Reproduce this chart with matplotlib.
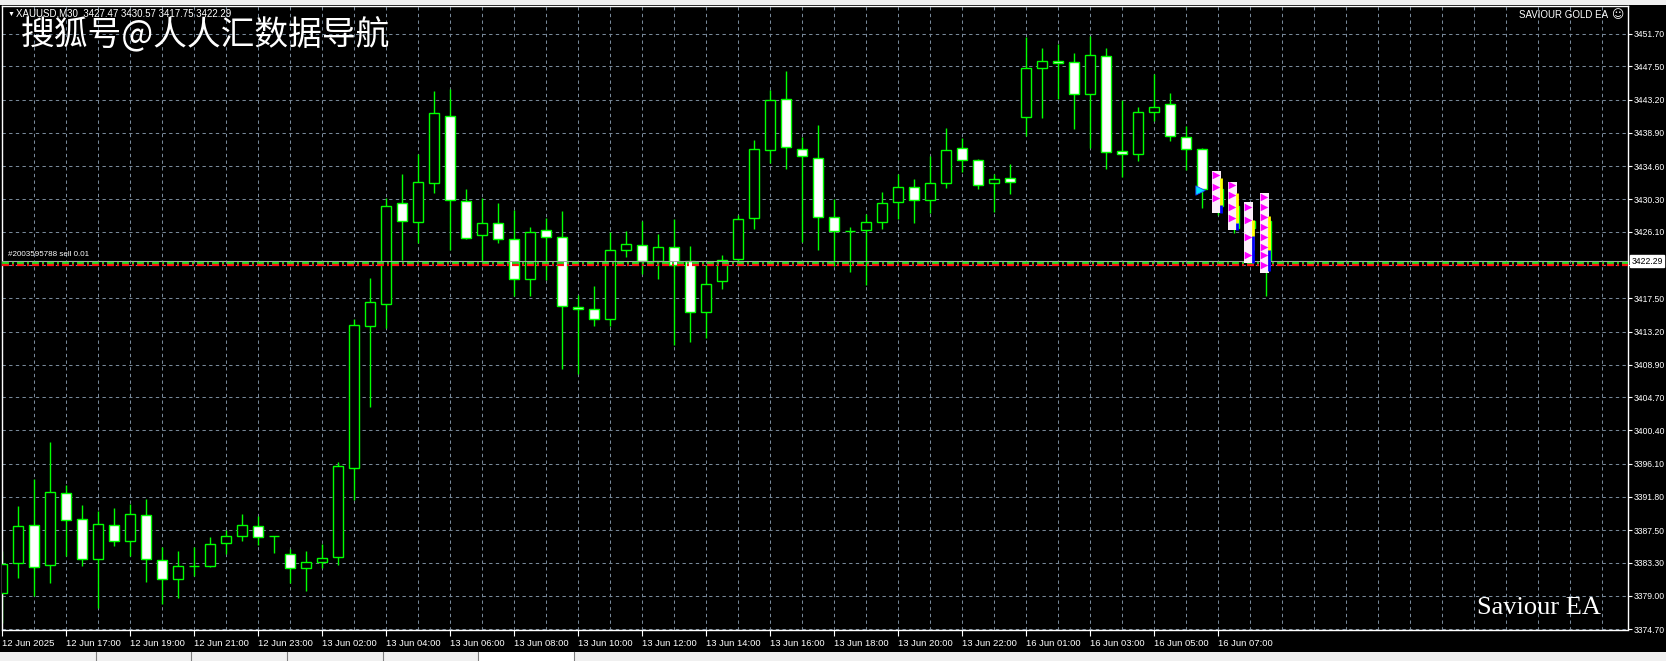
import matplotlib
matplotlib.use("Agg")
import matplotlib.pyplot as plt
import matplotlib.transforms as mtransforms
from matplotlib.patches import Rectangle
import numpy as np

plt.rcParams['font.family'] = ['Liberation Sans', 'DejaVu Sans']
plt.rcParams['lines.scale_dashes'] = False

W, H = 1666, 661

# XAUUSD M30 bars, 12 Jun 15:00 -> 16 Jun 08:30
opens = [3379.31, 3383.19, 3388.11, 3382.93, 3392.25, 3388.89, 3383.71, 3388.11, 3386.04, 3389.40,
         3383.58, 3381.12, 3382.89, 3382.80, 3385.78, 3386.69, 3387.98, 3386.73, 3384.36, 3382.54,
         3383.32, 3383.97, 3395.49, 3413.87, 3416.72, 3429.79, 3427.33, 3432.38, 3441.05, 3430.05,
         3425.65, 3427.20, 3425.13, 3419.95, 3426.29, 3425.39, 3416.41, 3416.07, 3414.77, 3423.70,
         3424.35, 3422.28, 3424.09, 3422.28, 3415.68, 3419.69, 3422.54, 3427.85, 3436.65, 3443.25,
         3436.78, 3435.61, 3428.00, 3426.17, 3426.30, 3427.33, 3429.92, 3431.86, 3430.18, 3432.38,
         3436.91, 3435.36, 3432.37, 3433.02, 3440.91, 3447.25, 3448.16, 3448.03, 3443.89, 3448.81,
         3436.51, 3436.12, 3441.56, 3442.60, 3438.33, 3436.77, 3431.60, 3429.50, 3426.60, 3427.47]
highs = [3384.79, 3390.61, 3394.06, 3398.89, 3393.33, 3390.70, 3390.01, 3390.35, 3390.83, 3391.47,
         3385.35, 3384.74, 3385.35, 3386.56, 3387.46, 3389.58, 3389.27, 3386.80, 3385.00, 3384.74,
         3385.65, 3396.26, 3414.86, 3420.08, 3430.43, 3433.54, 3436.13, 3444.33, 3444.59, 3431.60,
         3430.43, 3429.79, 3428.88, 3426.68, 3427.85, 3428.75, 3417.88, 3419.05, 3426.12, 3426.16,
         3427.46, 3425.78, 3427.72, 3424.22, 3421.81, 3423.06, 3428.24, 3437.94, 3444.41, 3446.87,
         3438.33, 3439.88, 3430.31, 3426.68, 3428.37, 3431.21, 3433.54, 3432.90, 3435.87, 3439.50,
         3438.20, 3435.48, 3433.54, 3434.83, 3451.27, 3449.84, 3450.36, 3449.20, 3451.40, 3449.84,
         3443.11, 3442.21, 3446.48, 3444.02, 3439.75, 3436.90, 3433.90, 3432.50, 3429.90, 3430.57]
lows = [3375.50, 3381.34, 3378.97, 3380.60, 3384.18, 3382.89, 3377.40, 3385.48, 3384.18, 3380.82,
        3378.00, 3378.66, 3381.55, 3382.67, 3384.36, 3386.12, 3385.52, 3384.57, 3380.60, 3379.65,
        3382.54, 3383.02, 3391.39, 3403.40, 3413.70, 3422.50, 3424.70, 3431.17, 3423.79, 3425.13,
        3422.24, 3424.61, 3417.75, 3417.75, 3419.82, 3408.30, 3407.66, 3413.96, 3413.96, 3422.80,
        3420.60, 3420.04, 3411.45, 3411.80, 3412.36, 3418.66, 3421.64, 3426.51, 3434.97, 3434.19,
        3424.74, 3423.71, 3421.64, 3420.86, 3419.18, 3426.42, 3427.72, 3427.20, 3428.50, 3431.73,
        3433.80, 3431.60, 3428.62, 3430.95, 3438.45, 3440.78, 3443.24, 3439.36, 3436.90, 3434.18,
        3433.15, 3435.22, 3440.40, 3437.81, 3434.05, 3429.14, 3428.30, 3426.00, 3422.10, 3417.75]
closes = [3383.10, 3387.98, 3382.67, 3392.38, 3388.76, 3383.71, 3388.24, 3386.04, 3389.53, 3383.71,
          3381.12, 3382.80, 3382.90, 3385.65, 3386.69, 3388.11, 3386.56, 3386.70, 3382.54, 3383.32,
          3383.84, 3395.75, 3414.00, 3416.97, 3429.40, 3427.46, 3432.51, 3441.44, 3430.18, 3425.26,
          3427.20, 3425.13, 3419.95, 3426.03, 3425.39, 3416.46, 3416.07, 3414.77, 3423.70, 3424.48,
          3422.28, 3424.09, 3421.85, 3415.68, 3419.31, 3422.41, 3427.72, 3436.78, 3443.12, 3437.04,
          3435.87, 3428.00, 3426.17, 3426.20, 3427.33, 3429.79, 3431.86, 3430.18, 3432.38, 3436.65,
          3435.36, 3432.12, 3432.89, 3432.50, 3447.25, 3448.16, 3447.90, 3443.89, 3448.94, 3436.38,
          3436.12, 3441.56, 3442.21, 3438.45, 3436.77, 3431.60, 3429.50, 3426.60, 3427.47, 3422.29]

time_labels = ["12 Jun 2025", "12 Jun 17:00", "12 Jun 19:00", "12 Jun 21:00", "12 Jun 23:00",
               "13 Jun 02:00", "13 Jun 04:00", "13 Jun 06:00", "13 Jun 08:00", "13 Jun 10:00",
               "13 Jun 12:00", "13 Jun 14:00", "13 Jun 16:00", "13 Jun 18:00", "13 Jun 20:00",
               "13 Jun 22:00", "16 Jun 01:00", "16 Jun 03:00", "16 Jun 05:00", "16 Jun 07:00"]
# the 3421.80 level is covered by the bid price box, so its label is left blank
price_levels = [3451.70, 3447.50, 3443.20, 3438.90, 3434.60, 3430.30, 3426.10, 3421.80, 3417.50,
                3413.20, 3408.90, 3404.70, 3400.40, 3396.10, 3391.80, 3387.50, 3383.30, 3379.00, 3374.70]
price_labels = ["3451.70", "3447.50", "3443.20", "3438.90", "3434.60", "3430.30", "3426.10",
                "", "3417.50", "3413.20", "3408.90", "3404.70", "3400.40", "3396.10",
                "3391.80", "3387.50", "3383.30", "3379.00", "3374.70"]

bid = 3422.29
order_buy_line = 3422.05
order_sl_line = 3421.82

# EA signal arrow columns (bar index, top, bottom, arrow prices)
sig_idx = [76, 77, 78, 79]
sig_top = [3433.97, 3432.50, 3429.91, 3431.08]
sig_bot = [3428.49, 3426.33, 3422.02, 3420.72]
sig_arrows = [[3433.45, 3431.94, 3430.43],
              [3432.16, 3430.86, 3429.35, 3427.84],
              [3429.35, 3427.63, 3425.47, 3423.10],
              [3430.65, 3429.35, 3428.06, 3426.76, 3425.47, 3424.17, 3423.10, 3421.80]]
sig_yellow = [(3433.0, 3429.35), (3431.1, 3427.2), (3427.6, 3423.7), (3428.1, 3421.6)]
sig_blue = [(3429.6, 3428.5), (3427.2, 3426.3), (3425.5, 3422.0), (3423.7, 3421.0)]
cyan_idx, cyan_price = 74.85, 3431.51

lime = '#00ff00'
gridc = '#778899'

fig = plt.figure(figsize=(W / 100, H / 100), dpi=100)
fig.patch.set_facecolor('black')
ax = fig.add_axes([2 / W, (H - 629.5) / H, 1626 / W, 623.5 / H])
ax.set_facecolor('black')

n = len(opens)
xs = np.arange(n)
o = np.array(opens); c = np.array(closes)
ax.set_xlim(-0.02, 1626 / 16 - 0.02)
ax.set_ylim(3374.64, 3455.32)

# grid
for v in price_levels:
    ax.axhline(v, color=gridc, lw=0.75, ls=(0, (2.4, 2.4)), zorder=0)
for v in range(0, 102, 2):
    ax.axvline(v, color=gridc, lw=0.75, ls=(0, (2.4, 2.4)), zorder=0)

# candles
ax.vlines(xs, lows, highs, color=lime, lw=1.0, zorder=2)
bull = c >= o
ax.bar(xs, np.abs(c - o), bottom=np.minimum(o, c), width=0.62,
       color=np.where(bull, 'black', 'white'), edgecolor=lime, linewidth=1.0, zorder=3)

# bid + order lines
ax.axhline(bid, color='#a8a8a8', lw=0.8, zorder=4)
ax.axhline(order_buy_line, color='#22dd22', lw=1.6, ls=(0, (5, 2.2, 1.4, 2.2)), zorder=4)
ax.axhline(order_sl_line, color='#ff1010', lw=1.6, ls=(0, (5, 2.2, 1.4, 2.2)), zorder=4)

# EA signal columns
for i, t, b, arr, yl, bl in zip(sig_idx, sig_top, sig_bot, sig_arrows, sig_yellow, sig_blue):
    ax.bar(i - 0.12, t - b, bottom=b, width=0.6, color='#fdeefa', edgecolor='none', zorder=5)
    ax.vlines(i + 0.14, yl[1], yl[0], color='#ffff00', lw=2.0, zorder=6)
    ax.vlines(i + 0.14, bl[1], bl[0], color='#0000ff', lw=2.0, zorder=6)
    ax.scatter([i - 0.15] * len(arr), arr, marker='>', s=30, color='#ff00ff', zorder=7, linewidths=0)
ax.scatter([cyan_idx], [cyan_price], marker='>', s=45, color='#00e5ff', edgecolors='#2040ff',
           linewidths=0.6, zorder=7)

# axes styling
for s in ax.spines.values():
    s.set_color('white'); s.set_linewidth(1.0)
ax.yaxis.tick_right()
ax.set_yticks(price_levels)
ax.set_yticklabels(price_labels)
ax.set_xticks(xs[::4])
ax.set_xticklabels(time_labels, ha='left')
ax.tick_params(axis='y', colors='white', length=3, width=0.8, pad=1.0, labelsize=6.2)
ax.tick_params(axis='x', colors='white', length=4, width=0.8, pad=3, labelsize=6.8)

# current price box
tr = mtransforms.blended_transform_factory(ax.transAxes, ax.transData)
ax.text(1.0022, bid, "3422.29", transform=tr, ha='left', va='center', fontsize=6.2, color='black',
        bbox=dict(facecolor='white', edgecolor='white', pad=1.0), zorder=10, clip_on=False)

# order label on chart
ax.text(0.35, 3422.95, "#2003595788 sell 0.01", fontsize=5.8, color='white', zorder=8)

def ftext(x, y, s, **kw):
    fig.text(x / W, 1 - y / H, s, **kw)

ftext(8, 14, "\u25bc", fontsize=5, color='white', va='center')
ftext(16, 14, "XAUUSD,M30  3427.47 3430.57 3417.75 3422.29", fontsize=7.0, color='white', va='center')
ftext(21, 36, "搜狐号@人人汇数据导航", fontsize=24.3, color='white', va='center',
      family=['Noto Sans CJK SC', 'DejaVu Sans'])
ftext(1519, 15, "SAVIOUR GOLD EA", fontsize=7.0, color='white', va='center')
ftext(1611, 15, "\u263a", fontsize=8.5, color='white', va='center', family=['DejaVu Sans'])
ftext(1477, 608, "Saviour EA", fontsize=19, color='white', va='center', family=['Liberation Serif'])

# window frame bits
fig.patches.append(Rectangle((0, 1 - 5 / H), 1, 5 / H, transform=fig.transFigure,
                             facecolor='#f0f0f0', edgecolor='none'))
fig.patches.append(Rectangle((0, 0), 1, 9 / H, transform=fig.transFigure,
                             facecolor='#f0f0f0', edgecolor='none'))
fig.patches.append(Rectangle((478 / W, 0), 96 / W, 9 / H, transform=fig.transFigure,
                             facecolor='white', edgecolor='none'))
for sx in [96, 191, 287, 383, 478, 574]:
    fig.add_artist(plt.Line2D([sx / W, sx / W], [0, 9 / H], transform=fig.transFigure,
                              color='#808080', lw=0.8))

fig.savefig('out.png', dpi=100, facecolor=fig.get_facecolor())
